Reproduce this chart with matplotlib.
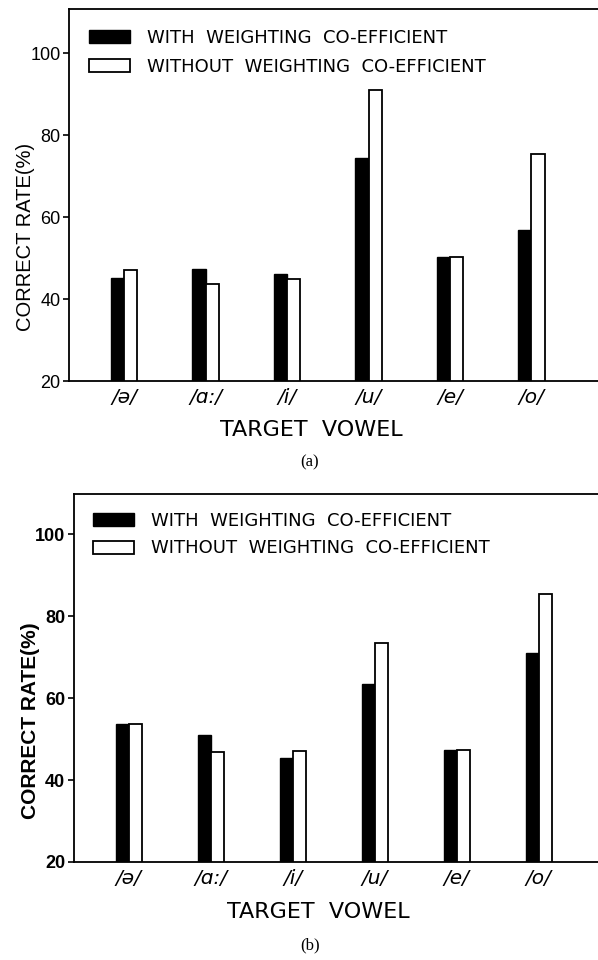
import matplotlib
matplotlib.use('Agg')
import matplotlib.pyplot as plt
from matplotlib.patches import Patch
import numpy as np

categories = ['/ə/', '/ɑ:/', '/i/', '/u/', '/e/', '/o/']
with_a = [45.2, 47.4, 46.1, 74.4, 50.2, 56.8]
without_a = [47.0, 43.6, 44.8, 91.0, 50.2, 75.3]
with_b = [53.6, 51.1, 45.3, 63.5, 47.4, 70.9]
without_b = [53.6, 46.9, 47.1, 73.4, 47.4, 85.5]
yticks = [20, 40, 60, 80, 100]
legend_labels = ['WITH  WEIGHTING  CO-EFFICIENT', 'WITHOUT  WEIGHTING  CO-EFFICIENT']
xlabel = 'TARGET  VOWEL'
ylabel = 'CORRECT RATE(%)'
panel_labels = ['(a)', '(b)']

W, H = 598, 960
fig = plt.figure(figsize=(W / 100, H / 100), dpi=100)

LEG_FS = 13


def fx(px):
    return px / W


def fy(py):
    return 1 - py / H


def panel(left, top, bottom, xlo, xhi, ytop, wv, wov, bold, leg_left, leg_top,
          leg_pitch, xl_pos, yl_pos, pl_pos, plabel):
    ax = fig.add_axes([fx(left), fy(bottom), 1 - fx(left), (bottom - top) / H])
    x = np.arange(len(categories))
    w = 0.16
    ax.bar(x - w / 2, wv, w, color='black', edgecolor='black', linewidth=1.0)
    ax.bar(x + w / 2, wov, w, color='white', edgecolor='black', linewidth=1.3)
    ax.set_xlim(xlo, xhi)
    ax.set_ylim(20, ytop)
    for s in ['left', 'bottom', 'top']:
        ax.spines[s].set_linewidth(1.3)
    ax.spines['right'].set_visible(False)
    ax.set_xticks(x)
    ax.set_xticklabels(categories, fontstyle='italic', fontsize=14.5,
                       family=['DejaVu Sans'])
    ax.tick_params(axis='x', length=0, pad=5)
    ax.set_yticks(yticks)
    ax.set_yticklabels([str(t) for t in yticks], fontsize=13,
                       family=['Liberation Sans', 'DejaVu Sans'],
                       fontweight='bold' if bold else 'normal')
    ax.tick_params(axis='y', length=4, width=1.2, pad=2, direction='out')
    handles = [Patch(facecolor='black', edgecolor='black', linewidth=1.0),
               Patch(facecolor='white', edgecolor='black', linewidth=1.3)]
    fs_px = LEG_FS * 100 / 72
    ax.legend(handles, legend_labels, loc='upper left',
              bbox_to_anchor=(fx(leg_left), fy(leg_top)),
              bbox_transform=fig.transFigure, frameon=False, borderpad=0,
              borderaxespad=0, handlelength=41 / fs_px,
              handleheight=13 / fs_px, handletextpad=17 / fs_px,
              labelspacing=(leg_pitch - 1.17 * fs_px) / fs_px,
              prop={'family': ['DejaVu Sans'], 'size': LEG_FS})
    fig.text(fx(xl_pos[0]), fy(xl_pos[1]), xlabel, ha='center', va='center',
             fontsize=16, family=['DejaVu Sans'])
    fig.text(fx(yl_pos[0]), fy(yl_pos[1]), ylabel, ha='center', va='center',
             rotation=90, fontsize=15 if bold else 14.5,
             fontweight='bold' if bold else 'normal',
             family=['Liberation Sans', 'DejaVu Sans'])
    fig.text(fx(pl_pos[0]), fy(pl_pos[1]), plabel, ha='center', va='center',
             fontsize=12, family=['Liberation Serif', 'DejaVu Serif'])
    return ax


panel(69, 9, 381, -0.675, 5.816, 110.8, with_a, without_a, False,
      89, 29, 32, (311, 430), (26, 237), (310, 462), panel_labels[0])
panel(73.5, 494, 862, -0.673, 5.723, 109.8, with_b, without_b, True,
      93, 512, 30.5, (318, 912), (31, 721), (310, 945), panel_labels[1])

fig.savefig('out.png', dpi=100)
